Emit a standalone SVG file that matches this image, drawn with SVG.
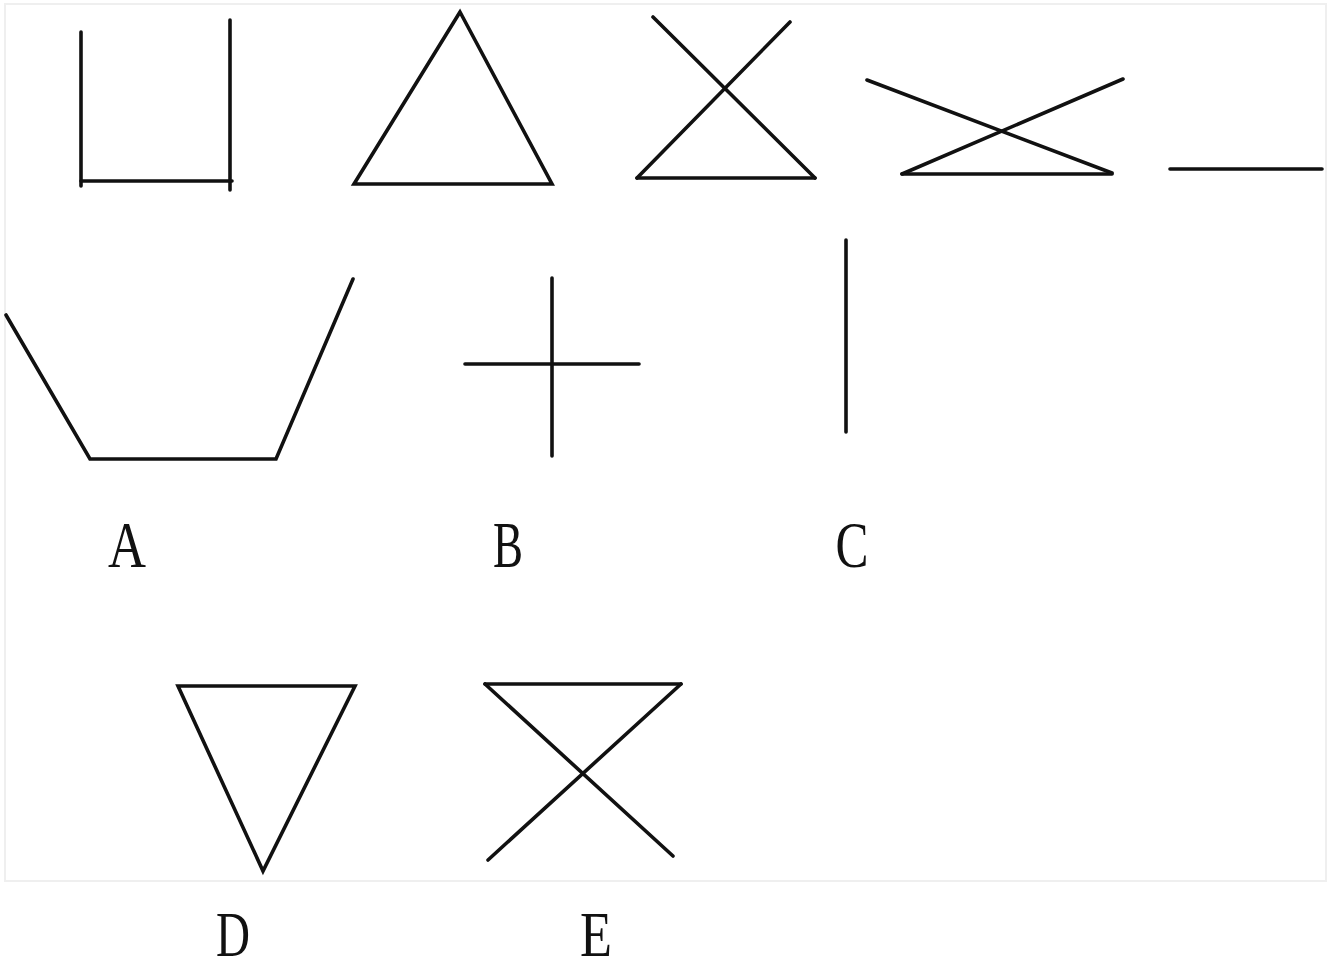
<svg xmlns="http://www.w3.org/2000/svg" width="1333" height="970" viewBox="0 0 1333 970">
<style>
.s{fill:none;stroke:#111;stroke-width:3.6;stroke-linecap:round;stroke-linejoin:miter}
.l{font-family:"Liberation Serif","DejaVu Serif",serif;font-size:66px;fill:#111;text-anchor:middle}
.lb{font-size:63px}
</style>
<rect x="0" y="0" width="1333" height="970" fill="#fff"/>
<rect x="5" y="4" width="1321" height="877" fill="#fff" stroke="#efefef" stroke-width="2"/>
<g id="fig1"><polyline class="s" points="81,32 81,186"/><polyline class="s" points="230,20 230,190"/><line class="s" x1="81" y1="181" x2="232" y2="181"/></g>
<g id="fig2"><polygon class="s" points="460,12 354,184 552,184"/></g>
<g id="fig3"><line class="s" x1="653" y1="17" x2="815" y2="178"/><line class="s" x1="790" y1="22" x2="637" y2="178"/><line class="s" x1="637" y1="178" x2="815" y2="178"/></g>
<g id="fig4"><line class="s" x1="867" y1="80" x2="1112" y2="173"/><line class="s" x1="1123" y1="79" x2="902" y2="174"/><line class="s" x1="902" y1="174" x2="1112" y2="174"/></g>
<g id="fig5"><line class="s" x1="1170" y1="169" x2="1322" y2="169"/></g>
<g id="optA"><polyline class="s" points="6,315 90,459 276,459 353,279"/><text class="l" x="127" y="567" textLength="38" lengthAdjust="spacingAndGlyphs">A</text></g>
<g id="optB"><line class="s" x1="465" y1="364" x2="639" y2="364"/><line class="s" x1="552" y1="278" x2="552" y2="456"/><text class="l" x="508" y="567" textLength="30" lengthAdjust="spacingAndGlyphs">B</text></g>
<g id="optC"><line class="s" x1="846" y1="240" x2="846" y2="432"/><text class="l" x="852" y="567" textLength="33" lengthAdjust="spacingAndGlyphs">C</text></g>
<g id="optD"><polygon class="s" points="178,686 355,686 263,871"/><text class="l lb" x="233" y="956" textLength="34" lengthAdjust="spacingAndGlyphs">D</text></g>
<g id="optE"><line class="s" x1="485" y1="684" x2="681" y2="684"/><line class="s" x1="485" y1="684" x2="673" y2="856"/><line class="s" x1="681" y1="684" x2="488" y2="860"/><text class="l lb" x="596" y="956" textLength="32" lengthAdjust="spacingAndGlyphs">E</text></g>
<g id="connectors"/>
</svg>
